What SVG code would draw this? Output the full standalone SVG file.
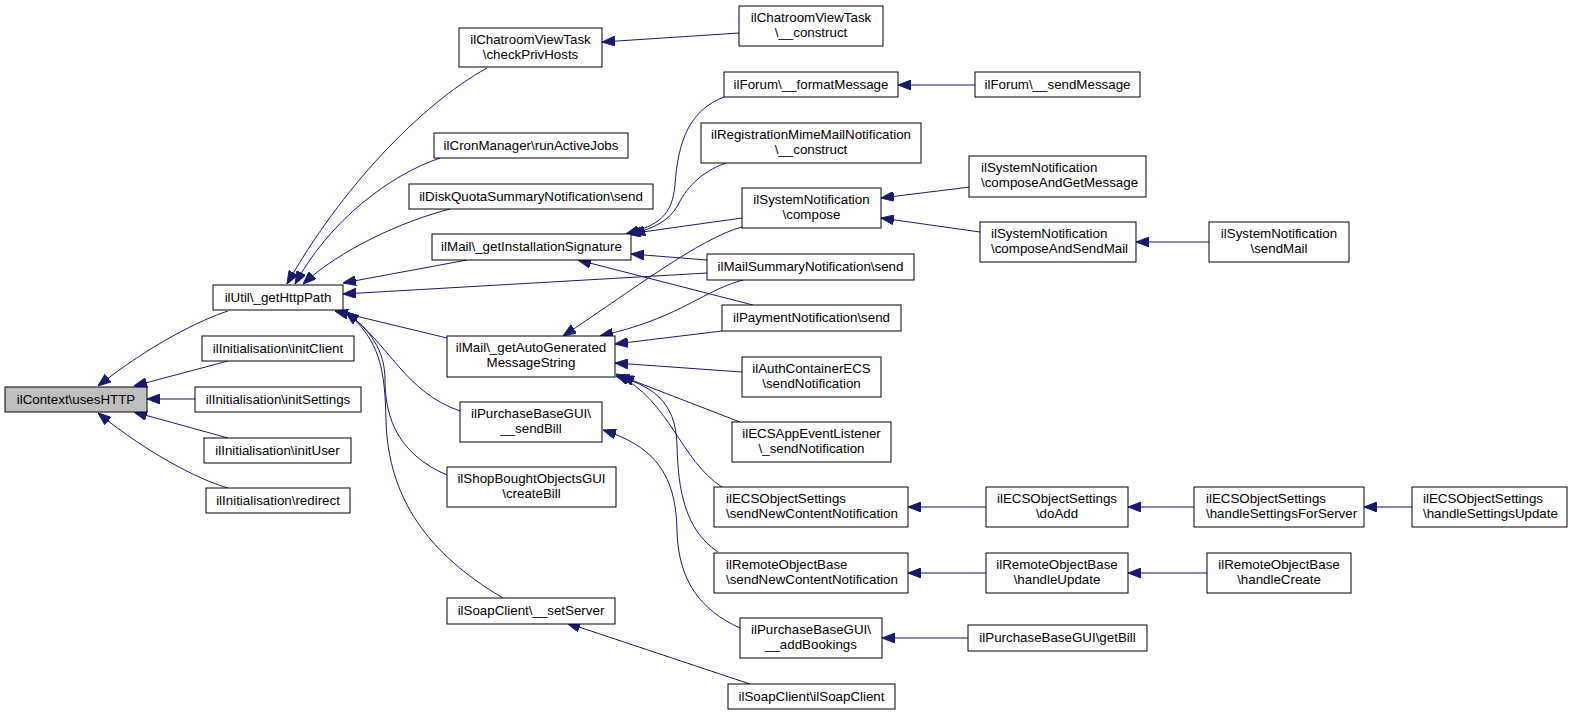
<svg xmlns="http://www.w3.org/2000/svg" width="1572" height="715" viewBox="0 0 1572 715">
<style>
.n rect{fill:#fff;stroke:#000;stroke-width:1}
.n.g rect{fill:#bfbfbf}
.n text{font-family:"Liberation Sans",Arial,sans-serif;font-size:13.33px;fill:#000;text-anchor:middle}
.n text.l{text-anchor:start}
#edges path{fill:none;stroke:#191970;stroke-width:1;marker-end:url(#ah)}
</style>
<defs>
<marker id="ah" viewBox="0 0 13 10" refX="13" refY="5" markerWidth="13" markerHeight="10" markerUnits="userSpaceOnUse" orient="auto">
<path d="M0,0 L13,5 L0,10 z" fill="#191970" stroke="#191970" stroke-width="1"/>
</marker>
</defs>
<rect width="1572" height="715" fill="#fff"/>
<g id="edges">
<path d="M228,311 C200,320 150,345 98,386"/>
<path d="M228,361 L134,386"/>
<path d="M195,399 L147,399"/>
<path d="M228,438 L134,412"/>
<path d="M228,488 C200,480 150,455 98,413"/>
<path d="M487,68 C420,105 340,190 287,284"/>
<path d="M440,158 C390,175 330,220 295,284"/>
<path d="M450,209 C400,222 340,250 303,284"/>
<path d="M467,260 L343,283"/>
<path d="M707,273 L343,294"/>
<path d="M447,338 L335,311"/>
<path d="M460,411 C405,392 390,345 346,312"/>
<path d="M447,475 C400,455 385,420 385,380 C385,350 370,330 346,312"/>
<path d="M503,598 C430,555 388,500 386,420 C385,370 380,340 346,312"/>
<path d="M724,97 C690,110 678,140 675,185 C672,215 660,225 626,234"/>
<path d="M726,163 C700,172 685,190 678,205 C670,220 655,228 632,234"/>
<path d="M742,218 L628,234"/>
<path d="M707,260 L631,254"/>
<path d="M753,305 L578,260"/>
<path d="M742,227 C700,238 630,292 563,336"/>
<path d="M743,280 C700,292 680,318 600,336"/>
<path d="M722,331 L615,344"/>
<path d="M742,372 L615,363"/>
<path d="M740,422 L621,376"/>
<path d="M722,487 C680,460 670,400 616,374"/>
<path d="M718,552 C685,530 678,490 677,445 C676,400 650,385 616,376"/>
<path d="M740,628 C700,610 678,580 677,530 C676,470 650,445 603,430"/>
<path d="M739,33 L602,42"/>
<path d="M975,85 L898,85"/>
<path d="M970,187 L881,198"/>
<path d="M980,232 L881,218"/>
<path d="M1209,242 L1136,242"/>
<path d="M986,507 L908,507"/>
<path d="M1194,507 L1128,507"/>
<path d="M1412,507 L1364,507"/>
<path d="M986,573 L908,573"/>
<path d="M1207,573 L1128,573"/>
<path d="M968,638 L882,638"/>
<path d="M750,684 L567,623"/>
</g>
<g id="usesHTTP" class="n g"><rect x="5" y="387" width="142" height="25"/><text x="76" y="403.5">ilContext\usesHTTP</text></g>
<g id="getHttpPath" class="n"><rect x="213" y="285" width="130" height="25"/><text x="278" y="301.5">ilUtil\_getHttpPath</text></g>
<g id="initClient" class="n"><rect x="202" y="336" width="152" height="25"/><text x="278" y="352.5">ilInitialisation\initClient</text></g>
<g id="initSettings" class="n"><rect x="195" y="387" width="166" height="25"/><text x="278" y="403.5">ilInitialisation\initSettings</text></g>
<g id="initUser" class="n"><rect x="204" y="438" width="147" height="25"/><text x="277.5" y="454.5">ilInitialisation\initUser</text></g>
<g id="redirect" class="n"><rect x="206" y="488" width="144" height="25"/><text x="278" y="504.5">ilInitialisation\redirect</text></g>
<g id="checkPrivHosts" class="n"><rect x="459" y="28" width="143" height="39"/><text x="530.5" y="43.5">ilChatroomViewTask</text><text x="530.5" y="58.5">\checkPrivHosts</text></g>
<g id="runActiveJobs" class="n"><rect x="434" y="133" width="194" height="25"/><text x="531" y="149.5">ilCronManager\runActiveJobs</text></g>
<g id="diskQuotaSend" class="n"><rect x="409" y="184" width="244" height="25"/><text x="531" y="200.5">ilDiskQuotaSummaryNotification\send</text></g>
<g id="getInstallationSignature" class="n"><rect x="432" y="234" width="199" height="26"/><text x="531.5" y="251">ilMail\_getInstallationSignature</text></g>
<g id="getAutoGenerated" class="n"><rect x="447" y="336" width="168" height="41"/><text x="531" y="351.5">ilMail\_getAutoGenerated</text><text x="531" y="366.5">MessageString</text></g>
<g id="sendBill" class="n"><rect x="460" y="402" width="142" height="40"/><text x="531" y="417.5">ilPurchaseBaseGUI\</text><text x="531" y="432.5">__sendBill</text></g>
<g id="createBill" class="n"><rect x="447" y="467" width="169" height="40"/><text x="531.5" y="482.5">ilShopBoughtObjectsGUI</text><text x="531.5" y="497.5">\createBill</text></g>
<g id="setServer" class="n"><rect x="447" y="598" width="168" height="26"/><text x="531" y="615">ilSoapClient\__setServer</text></g>
<g id="chatroomConstruct" class="n"><rect x="739" y="6" width="144" height="40"/><text x="811" y="21.5">ilChatroomViewTask</text><text x="811" y="36.5">\__construct</text></g>
<g id="formatMessage" class="n"><rect x="724" y="72" width="174" height="25"/><text x="811" y="88.5">ilForum\__formatMessage</text></g>
<g id="regMimeConstruct" class="n"><rect x="701" y="123" width="220" height="40"/><text x="811" y="138.5">ilRegistrationMimeMailNotification</text><text x="811" y="153.5">\__construct</text></g>
<g id="compose" class="n"><rect x="742" y="188" width="139" height="40"/><text x="811.5" y="203.5">ilSystemNotification</text><text x="811.5" y="218.5">\compose</text></g>
<g id="mailSummarySend" class="n"><rect x="707" y="254" width="207" height="26"/><text x="810.5" y="271">ilMailSummaryNotification\send</text></g>
<g id="paymentSend" class="n"><rect x="722" y="305" width="179" height="26"/><text x="811.5" y="322">ilPaymentNotification\send</text></g>
<g id="authContainerECS" class="n"><rect x="742" y="357" width="139" height="40"/><text x="811.5" y="372.5">ilAuthContainerECS</text><text x="811.5" y="387.5">\sendNotification</text></g>
<g id="ecsAppEvent" class="n"><rect x="732" y="422" width="159" height="40"/><text x="811.5" y="437.5">ilECSAppEventListener</text><text x="811.5" y="452.5">\_sendNotification</text></g>
<g id="ecsSendNew" class="n"><rect x="714" y="487" width="194" height="40"/><text class="l" x="726" y="502.5">ilECSObjectSettings</text><text class="l" x="726" y="517.5">\sendNewContentNotification</text></g>
<g id="remoteSendNew" class="n"><rect x="714" y="553" width="194" height="40"/><text class="l" x="726" y="568.5">ilRemoteObjectBase</text><text class="l" x="726" y="583.5">\sendNewContentNotification</text></g>
<g id="addBookings" class="n"><rect x="740" y="618" width="142" height="40"/><text x="811" y="633.5">ilPurchaseBaseGUI\</text><text x="811" y="648.5">__addBookings</text></g>
<g id="soapClient" class="n"><rect x="728" y="684" width="167" height="25"/><text x="811.5" y="700.5">ilSoapClient\ilSoapClient</text></g>
<g id="sendMessage" class="n"><rect x="975" y="72" width="165" height="25"/><text x="1057.5" y="88.5">ilForum\__sendMessage</text></g>
<g id="composeAndGetMessage" class="n"><rect x="969" y="156" width="177" height="41"/><text class="l" x="981" y="171.5">ilSystemNotification</text><text class="l" x="981" y="186.5">\composeAndGetMessage</text></g>
<g id="composeAndSendMail" class="n"><rect x="980" y="222" width="156" height="40"/><text class="l" x="991" y="237.5">ilSystemNotification</text><text class="l" x="991" y="252.5">\composeAndSendMail</text></g>
<g id="sendMail" class="n"><rect x="1209" y="222" width="140" height="40"/><text x="1279" y="237.5">ilSystemNotification</text><text x="1279" y="252.5">\sendMail</text></g>
<g id="doAdd" class="n"><rect x="986" y="487" width="142" height="40"/><text x="1057" y="502.5">ilECSObjectSettings</text><text x="1057" y="517.5">\doAdd</text></g>
<g id="handleSettingsForServer" class="n"><rect x="1194" y="487" width="170" height="40"/><text class="l" x="1206" y="502.5">ilECSObjectSettings</text><text class="l" x="1206" y="517.5">\handleSettingsForServer</text></g>
<g id="handleSettingsUpdate" class="n"><rect x="1412" y="487" width="155" height="40"/><text class="l" x="1423" y="502.5">ilECSObjectSettings</text><text class="l" x="1423" y="517.5">\handleSettingsUpdate</text></g>
<g id="handleUpdate" class="n"><rect x="986" y="553" width="142" height="40"/><text x="1057" y="568.5">ilRemoteObjectBase</text><text x="1057" y="583.5">\handleUpdate</text></g>
<g id="handleCreate" class="n"><rect x="1207" y="553" width="144" height="40"/><text x="1279" y="568.5">ilRemoteObjectBase</text><text x="1279" y="583.5">\handleCreate</text></g>
<g id="getBill" class="n"><rect x="968" y="625" width="179" height="26"/><text x="1057.5" y="642">ilPurchaseBaseGUI\getBill</text></g>
</svg>
